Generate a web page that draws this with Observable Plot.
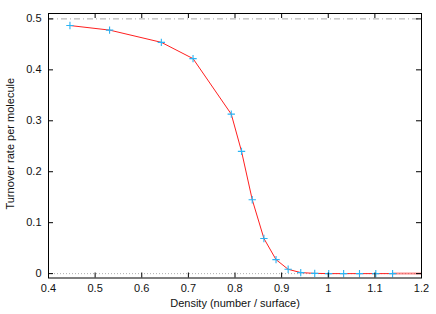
<!DOCTYPE html>
<html>
<head>
<meta charset="utf-8">
<script src="https://cdn.jsdelivr.net/npm/d3@7"></script>
<script src="https://cdn.jsdelivr.net/npm/@observablehq/plot@0.6"></script>
<style>
  html, body { margin: 0; padding: 0; background: #fff; }
  svg { display: block; }
</style>
</head>
<body>
<div id="chart"></div>
<script>
const density = [0.446, 0.531, 0.642, 0.710, 0.792, 0.814, 0.837, 0.862, 0.888, 0.914, 0.941, 0.971, 1.001, 1.033, 1.067, 1.102, 1.138];
const turnover = [0.487, 0.478, 0.454, 0.422, 0.313, 0.240, 0.145, 0.069, 0.0275, 0.0085, 0.002, 0.0005, 0, 0, 0, 0, 0];
// line continues past the right edge of the plot (clipped)
const tailDensity = [1.138, 1.25];
const tailTurnover = [0, 0];

const xTicks = [0.4, 0.5, 0.6, 0.7, 0.8, 0.9, 1, 1.1, 1.2];
const yTicks = [0, 0.1, 0.2, 0.3, 0.4, 0.5];
const xDomain = [0.4, 1.2];
const yDomain = [-0.0086, 0.5106];
const refLevels = [0.5, 0];

const points = density.map((d, i) => ({x: d, y: turnover[i]}));
const tail = tailDensity.map((d, i) => ({x: d, y: tailTurnover[i]}));

const W = 436, H = 314;
const mL = 48, mR = 15, mT = 13, mB = 36.5;
const pxX = (xDomain[1] - xDomain[0]) / (W - mL - mR);
const pxY = (yDomain[1] - yDomain[0]) / (H - mT - mB);
const tl = 5;

const chart = Plot.plot({
  width: W,
  height: H,
  marginLeft: mL,
  marginRight: mR,
  marginTop: mT,
  marginBottom: mB,
  style: {fontFamily: "'Liberation Sans', Arial, sans-serif", fontSize: "11px", color: "#111", background: "#fff"},
  x: {domain: xDomain, ticks: xTicks, tickFormat: d => String(d)},
  y: {domain: yDomain, ticks: yTicks, tickFormat: d => String(d)},
  marks: [
    // reference lines
    Plot.ruleY([refLevels[0]], {stroke: "#a8a8a8", strokeWidth: 1, strokeDasharray: "6,3,1,3"}),
    Plot.ruleY([refLevels[1]], {stroke: "#b0b0b0", strokeWidth: 1, strokeDasharray: "1,2"}),
    // data
    Plot.line(tail, {x: "x", y: "y", stroke: "#ff3030", strokeWidth: 2, strokeOpacity: 0.55, clip: true}),
    Plot.line(points, {x: "x", y: "y", stroke: "#ff2020", strokeWidth: 1}),
    Plot.dot(points, {x: "x", y: "y", symbol: "plus", r: 2.5, stroke: "#2ab4f4", strokeWidth: 1.1}),
    // frame
    Plot.frame({stroke: "#000", strokeWidth: 1}),
    // inward ticks bottom/top
    Plot.ruleX(xTicks, {y1: yDomain[0], y2: yDomain[0] + tl * pxY, stroke: "#000"}),
    Plot.ruleX(xTicks, {y1: yDomain[1], y2: yDomain[1] - tl * pxY, stroke: "#000"}),
    // inward ticks left/right
    Plot.ruleY(yTicks, {x1: xDomain[0], x2: xDomain[0] + tl * pxX, stroke: "#000"}),
    Plot.ruleY(yTicks, {x1: xDomain[1], x2: xDomain[1] - tl * pxX, stroke: "#000"}),
    // tick labels
    Plot.axisX(xTicks, {anchor: "bottom", tickSize: 0, tickPadding: 6, label: null, tickFormat: d => String(d)}),
    Plot.axisY(yTicks, {anchor: "left", tickSize: 0, tickPadding: 7, label: null, tickFormat: d => String(d)}),
    // axis titles
    Plot.text(["Density (number / surface)"], {frameAnchor: "bottom", dy: 28.5, fontSize: 11, textAnchor: "middle"}),
    Plot.text(["Turnover rate per molecule"], {frameAnchor: "left", dx: -38, dy: -2, rotate: -90, fontSize: 11, textAnchor: "middle"})
  ]
});
document.getElementById("chart").appendChild(chart);
</script>
</body>
</html>
